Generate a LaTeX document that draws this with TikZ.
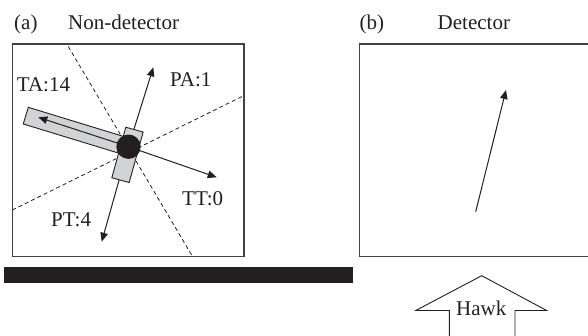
\documentclass[tikz,border=0pt]{standalone}
\usepackage{fontspec}
\setmainfont{Liberation Serif}
\usetikzlibrary{arrows.meta}
\definecolor{ink}{HTML}{231F20}
\definecolor{panelgray}{HTML}{D2D3D5}
\tikzset{
  lbl/.style={anchor=base west, inner sep=0pt, font=\fontsize{21}{25}\selectfont, text=ink},
  frame/.style={draw=ink!85, line width=1.2pt},
  quad/.style={draw=ink, line width=0.8pt, dash pattern=on 4pt off 3pt},
  vec/.style={draw=ink, line width=1pt, -{Triangle[length=9pt,width=7.5pt]}},
  plate/.style={draw=ink, line width=0.9pt, fill=panelgray},
}
\begin{document}
\begin{tikzpicture}[x=1pt,y=-1pt]
\useasboundingbox (0,0) rectangle (588,335);
% titles
\node[lbl] (ta) at (14,29.5) {(a)};
\node[lbl] (tna) at (68,29.5) {Non-detector};
\node[lbl] (tb) at (359.5,29.5) {(b)};
\node[lbl] (tnb) at (437.5,29.5) {Detector};
% frames
\draw[frame] (12.3,44) rectangle (244,256.8);
\draw[frame] (600,44) -- (359.3,44) -- (359.3,256.8) -- (600,256.8);
% ground bar
\fill[ink] (4,266.7) rectangle (353.3,283.3);
% panel (a)
\coordinate (C) at (128.5,146.7);
\coordinate (d1a) at (68.3,46.5);
\coordinate (d1b) at (192.7,256.8);
\coordinate (d2a) at (12.3,210);
\coordinate (d2b) at (242,96.5);
\draw[quad] (d1a) -- (d1b);
\draw[quad] (d2a) -- (d2b);
\coordinate (pa) at (153.3,67.3);
\coordinate (pt) at (101.7,241.7);
\coordinate (taTip) at (38.3,117.3);
\coordinate (ttTip) at (216.7,177.3);
\draw[vec] (C) -- (pa);
\draw[vec] (C) -- (pt);
% long plate (tail)
\draw[plate, rotate around={-17:(76,131)}] (23.5,122.3) rectangle (128.5,139.7);
% short plate
\draw[plate, rotate around={-15.5:(127.5,154.9)}] (118.5,128.7) rectangle (136.5,181.1);
\draw[vec] (C) -- (taTip);
\draw[vec] (C) -- (ttTip);
\fill[ink] (C) circle (12.2);
\node[lbl] (lTA) at (16.7,91.7) {TA:14};
\node[lbl] (lPA) at (170,86) {PA:1};
\node[lbl] (lTT) at (182,205) {TT:0};
\node[lbl] (lPT) at (51,226.5) {PT:4};
% panel (b)
\coordinate (bTail) at (475.7,211.7);
\coordinate (bTip) at (506,90);
\draw[vec] (bTail) -- (bTip);
% hawk arrow
\draw[draw=ink, line width=0.9pt, line join=miter]
  (449.3,336) -- (449.3,310.5) -- (415.7,310.5) -- (481.7,275.7)
  -- (546.7,310.5) -- (515,310.5) -- (515,336);
\node[lbl] (hawk) at (456,315.7) {Hawk};
\end{tikzpicture}
\end{document}
